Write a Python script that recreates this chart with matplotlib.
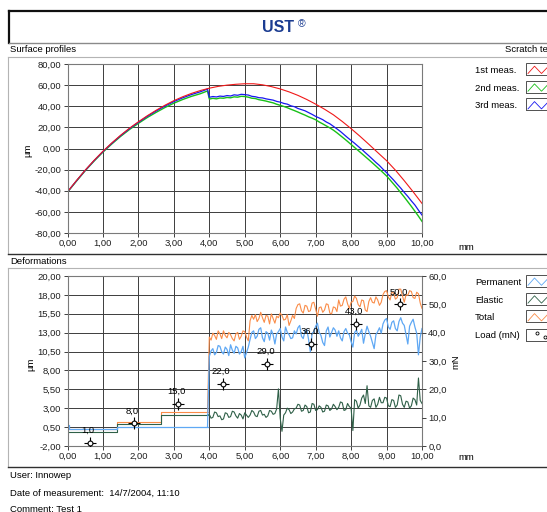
import numpy as np
import matplotlib.pyplot as plt
from matplotlib.lines import Line2D
from matplotlib.patches import Rectangle

plt.rcParams['font.family'] = ['Liberation Sans', 'DejaVu Sans']

W, H = 547, 512

# ---- surface profiles (um over mm) ----
red_x = np.linspace(0, 10, 41)
red_1st = [-41, -30.5, -20.5, -11.2, -2.6, 5.3, 12.6, 19.3, 25.3, 31.0, 36.2, 41.0, 45.3,
           49.0, 52.2, 54.9, 57.1, 58.8, 60.0, 60.8, 61.3, 61.3, 60.3, 58.6, 56.4,
           53.6, 50.3, 46.4, 42.0, 37.2, 31.9, 25.6, 18.8, 11.6, 4.0, -3.8, -11.5,
           -20.5, -30.5, -41.0, -52.0]

pre_x = np.append(np.linspace(0, 3.75, 16), 3.95)
blue_pre = [-41.1, -30.7, -20.7, -11.5, -2.9, 4.9, 12.2, 18.8, 24.8, 30.4, 35.5, 40.2,
            44.4, 48.0, 51.1, 53.7, 56.3]
green_pre = [-41.3, -31.0, -21.0, -11.9, -3.4, 4.3, 11.5, 18.0, 23.8, 29.3, 34.2, 38.8,
             42.9, 46.4, 49.4, 51.9, 54.5]

post_x = np.linspace(4.0, 10.0, 61)
blue_post = [48.5, 49.2, 48.8, 49.6, 49.3, 50.1, 49.7, 50.8, 50.4, 51.3,
             51.0, 50.6, 49.4, 49.0, 48.1, 47.9, 47.0, 46.4, 45.8, 44.6,
             43.9, 42.7, 42.0, 40.4, 39.6, 37.9, 36.8, 35.7, 34.0, 32.3,
             30.4, 28.9, 27.3, 25.1, 23.4, 21.0, 18.6, 16.1, 13.2, 10.3,
             7.6, 4.9, 2.0, -0.8, -3.9, -6.9, -10.0, -13.2, -16.1, -19.6,
             -22.8, -26.4, -29.9, -33.8, -37.5, -41.6, -45.4, -49.6, -53.5, -58.4,
             -63.0]
green_post = [46.8, 47.5, 47.0, 47.8, 47.6, 48.3, 48.0, 48.9, 48.6, 49.4,
              49.2, 48.6, 47.6, 47.3, 46.2, 45.6, 44.9, 44.0, 43.2, 41.9,
              40.9, 39.8, 38.6, 37.2, 35.9, 34.5, 33.0, 31.6, 30.0, 28.7,
              27.2, 25.1, 23.3, 21.4, 19.5, 17.4, 14.9, 12.2, 9.5, 6.7,
              3.8, 0.9, -1.9, -4.8, -7.7, -10.6, -13.6, -16.6, -19.7, -22.8,
              -26.0, -29.8, -33.7, -37.6, -41.8, -46.0, -50.4, -54.8, -59.4, -64.1,
              -69.0]

# ---- deformations (um) ----
step_x = [0.0, 0.03, 1.4, 2.65, 3.95]
perm_step = [0.75, 0.15, 0.4, 0.45, 0.45]
elastic_step = [-0.2, -0.2, 0.8, 2.0, 2.0]
total_step = [0.25, 0.25, 1.05, 2.45, 2.45]

def_x = np.linspace(4.0, 10.0, 121)
total_def = [12.1, 11.7, 12.6, 12.3, 11.8, 12.9, 12.5, 11.9, 12.9, 12.3, 12.0, 12.7, 12.4,
             11.9, 11.6, 12.5, 12.7, 11.8, 12.2, 12.9, 12.8, 12.1, 11.6,
             14.2, 14.9, 14.4, 15.0, 14.1, 14.5, 15.3, 14.6, 14.0, 14.9, 14.8, 13.8, 15.1,
             14.5, 13.9, 14.8, 14.6, 15.2, 14.9, 14.3, 14.4, 15.0, 13.6, 14.2, 14.9, 14.5,
             15.8, 16.3, 16.4, 15.5, 15.2, 16.2, 16.1, 15.4, 15.5, 16.5, 16.6, 15.7,
             14.8, 15.9, 16.0, 15.3, 15.6, 16.4, 16.3, 15.2, 15.1, 16.0, 15.9, 15.4,
             16.9, 16.1, 16.2, 17.0, 17.3, 16.4, 15.8, 16.6, 16.7, 17.4, 17.1, 16.3, 16.0,
             16.9, 16.8, 15.6, 15.4, 16.7, 17.2, 16.6, 16.5, 17.3, 16.9, 16.2, 16.6,
             17.6, 18.0, 18.1, 17.3, 16.9, 17.9, 17.8, 17.0, 17.2, 18.3, 18.3, 17.4,
             16.6, 17.6, 17.5, 18.1, 18.0, 17.2, 17.1, 17.9, 17.7, 16.5, 15.8]
perm_def = [9.6, 10.3, 10.6, 9.8, 10.1, 11.0, 10.9, 10.2, 9.9, 10.8, 10.5, 9.7, 11.1,
            10.4, 10.0, 10.9, 10.7, 9.9, 10.2, 10.9, 9.4, 10.1, 10.8,
            11.8, 12.7, 12.9, 11.9, 12.2, 13.1, 13.3, 12.0, 11.5, 12.8, 12.6, 11.7, 13.0,
            12.4, 11.2, 12.5, 12.8, 13.2, 12.1, 11.6, 13.4, 12.7, 12.4, 11.9, 12.0, 12.9,
            12.5, 13.3, 13.6, 12.2, 11.9, 12.9, 13.1, 11.8, 10.2, 12.6, 12.8, 13.5,
            13.9, 12.7, 12.3, 11.4, 11.0, 12.9, 13.4, 12.1, 12.7, 13.3, 13.0, 12.2,
            12.9, 12.0, 11.6, 12.8, 13.2, 12.6, 12.4, 11.5, 10.8, 12.7, 13.0, 12.2, 12.6,
            13.1, 11.3, 12.5, 13.5, 12.8, 12.2, 11.4, 10.6, 12.4, 12.8, 13.3, 12.6,
            13.8, 14.3, 14.5, 13.4, 13.1, 14.0, 14.2, 13.2, 12.9, 14.1, 14.6, 13.9,
            13.6, 12.4, 11.2, 13.5, 14.0, 14.4, 13.4, 12.6, 9.8, 12.1, 13.2]
elastic_def = [2.1, 1.6, 1.7, 2.4, 2.3, 1.8, 1.9, 1.4, 1.5, 2.3, 2.2, 1.7, 1.8,
               2.5, 2.4, 1.9, 1.6, 2.2, 2.0, 1.5, 2.3, 2.0, 1.7,
               2.0, 2.6, 2.4, 1.9, 1.8, 2.5, 2.6, 2.0, 2.1, 1.7, 1.9, 2.6, 2.5,
               2.1, 2.2, 2.8, 5.4, 1.6, -0.1, 2.0, 2.3, 2.9, 2.7, 2.2, 2.4, 2.8,
               2.9, 3.4, 3.3, 2.5, 2.6, 3.3, 3.1, 2.3, 2.4, 3.5, 3.4, 2.6,
               2.7, 3.2, 3.0, 2.4, 2.5, 3.3, 3.2, 2.6, 2.8, 3.4, 3.1, 2.7,
               3.0, 3.7, 3.6, 2.6, 2.7, 3.5, 3.1, 2.9, 0.0, 4.0, 3.8, 2.9, 3.3,
               4.2, 4.6, 3.5, 5.8, 3.2, 3.0, 3.9, 4.1, 3.0, 3.4, 4.3, 3.6,
               3.6, 4.3, 4.2, 3.2, 3.1, 4.0, 3.9, 3.0, 3.3, 4.6, 4.5, 3.4,
               3.0, 3.8, 3.7, 2.9, 3.2, 4.2, 4.0, 3.3, 6.8, 3.9, 3.5]

load_x = [0.625, 1.875, 3.125, 4.375, 5.625, 6.875, 8.125, 9.375]
load_mN = [1.0, 8.0, 15.0, 22.0, 29.0, 36.0, 43.0, 50.0]

def_ticks = np.linspace(-2, 20, 10)
def_tick_labels = ['-2,00', '0,50', '3,00', '5,50', '8,00', '10,50', '13,00', '15,50', '18,00', '20,00']

C_RED, C_GREEN, C_BLUE = '#f01818', '#18c018', '#1818f0'
C_PERM, C_ELAS, C_TOT = '#5fa8f4', '#2f6048', '#fa8c48'
FS = 6.8


def comma(v, nd):
    return f'{v:.{nd}f}'.replace('.', ',')


def rect(l, t, r, b):
    return [l / W, 1 - b / H, (r - l) / W, (b - t) / H]


def fline(xs, ys, **kw):
    fig.add_artist(Line2D([x / W for x in xs], [1 - y / H for y in ys], **kw))


def ftext(x, y, s, **kw):
    kw.setdefault('fontsize', FS)
    kw.setdefault('va', 'center')
    fig.text(x / W, 1 - y / H, s, **kw)


def style(ax):
    for s in ax.spines.values():
        s.set_color('#7a7a7a')
        s.set_linewidth(0.8)
    ax.tick_params(direction='out', length=3, width=0.6, colors='#202020',
                   labelsize=FS, pad=1.5)
    ax.grid(True, color='#3c3c3c', lw=0.7)
    ax.set_axisbelow(True)


def legend_box(y, label, col=None):
    ftext(475, y, label)
    fig.add_artist(Rectangle((526 / W, 1 - (y + 4.5) / H), 40 / W, 12 / H,
                             transform=fig.transFigure, fill=False, ec='#505050', lw=0.7))
    if col is not None:
        fline([528, 534.5, 541.5, 548.5], [y + 3, y - 4.3, y + 3, y - 4.3], color=col, lw=0.6)


fig = plt.figure(figsize=(W / 100, H / 100), dpi=100)

# header box
fline([8.5, 560], [11, 11], color='#101010', lw=1.6)
fline([8.5, 8.5], [11, 43], color='#101010', lw=1.6)
fline([8.5, 560], [43, 43], color='#8a8a8a', lw=1.0)
ftext(278, 28, 'UST', fontsize=11.5, fontweight='bold', color='#1b3c91', ha='center')
ftext(302, 24, '®', fontsize=7.5, color='#1b3c91', ha='center')

# panel frames
ftext(10, 49, 'Surface profiles')
ftext(505, 49, 'Scratch test')
fline([8, 560], [57, 57], color='#b4b4b4', lw=0.8)
fline([8, 8], [57, 254], color='#b4b4b4', lw=0.8)
fline([8, 560], [254, 254], color='#303030', lw=1.0)

ftext(10, 261, 'Deformations')
fline([8, 560], [268, 268], color='#b4b4b4', lw=0.8)
fline([8, 8], [268, 467], color='#b4b4b4', lw=0.8)
fline([8, 560], [467, 467], color='#303030', lw=1.0)

# ---- upper chart ----
ax1 = fig.add_axes(rect(67.5, 64, 422, 233))
style(ax1)
ax1.plot(np.append(pre_x, post_x), green_pre + green_post, color=C_GREEN, lw=1.0)
ax1.plot(np.append(pre_x, post_x), blue_pre + blue_post, color=C_BLUE, lw=0.9)
ax1.plot(red_x, red_1st, color=C_RED, lw=0.8)
ax1.set_xlim(0, 10)
ax1.set_ylim(-80, 80)
ax1.set_xticks(range(11))
ax1.set_xticklabels([comma(v, 2) for v in range(11)])
ax1.set_yticks(range(-80, 81, 20))
ax1.set_yticklabels([comma(v, 2) for v in range(-80, 81, 20)])
ftext(28, 150, 'µm', rotation=90, ha='center')
ftext(466, 247, 'mm', ha='center')

for i, (lab, col) in enumerate([('1st meas.', C_RED), ('2nd meas.', C_GREEN), ('3rd meas.', C_BLUE)]):
    legend_box(70.5 + 17.7 * i, lab, col)

# ---- lower chart ----
ax2 = fig.add_axes(rect(67.5, 276, 422, 446))
style(ax2)
for sv, dv, col, lw in [(total_step, total_def, C_TOT, 0.8),
                        (elastic_step, elastic_def, C_ELAS, 0.8),
                        (perm_step, perm_def, C_PERM, 0.9)]:
    ax2.step(step_x, sv, where='post', color=col, lw=lw)
    ax2.plot(np.append(step_x[-1], def_x), [sv[-1]] + dv, color=col, lw=lw)
ax2.set_xlim(0, 10)
ax2.set_ylim(-2, 20)
ax2.set_xticks(range(11))
ax2.set_xticklabels([comma(v, 2) for v in range(11)])
ax2.set_yticks(def_ticks)
ax2.set_yticklabels(def_tick_labels)

ax3 = ax2.twinx()
ax3.set_ylim(0, 60)
ax3.set_yticks(range(0, 61, 10))
ax3.set_yticklabels([comma(v, 1) for v in range(0, 61, 10)])
ax3.tick_params(direction='out', length=3, width=0.6, colors='#202020', labelsize=FS, pad=1.5)
for s in ax3.spines.values():
    s.set_visible(False)
ax3.plot(load_x, load_mN, ls='none', marker='+', ms=8, mew=0.8, color='black')
ax3.plot(load_x, load_mN, ls='none', marker='o', ms=3.5, mew=0.8, mfc='white', mec='black')
for lx, lv in zip(load_x, load_mN):
    ax3.annotate(comma(lv, 1), (lx, lv), xytext=(-1, 9), textcoords='offset points',
                 ha='center', va='center', fontsize=FS)

ftext(31, 364, 'µm', rotation=90, ha='center')
ftext(456, 362, 'mN', rotation=90, ha='center')
ftext(466, 458, 'mm', ha='center')

for i, (lab, col) in enumerate([('Permanent', C_PERM), ('Elastic', C_ELAS), ('Total', C_TOT)]):
    legend_box(282.3 + 17.8 * i, lab, col)
legend_box(336, 'Load (mN)')
fig.add_artist(Line2D([537 / W, 545 / W], [1 - 333 / H, 1 - 337 / H], ls='none',
                      marker='o', ms=2.2, mfc='white', mec='black', mew=0.6))

# footer
ftext(10, 476, 'User: Innowep')
ftext(10, 493, 'Date of measurement:  14/7/2004, 11:10')
ftext(10, 509, 'Comment: Test 1')

fig.savefig('out.png', dpi=100)
